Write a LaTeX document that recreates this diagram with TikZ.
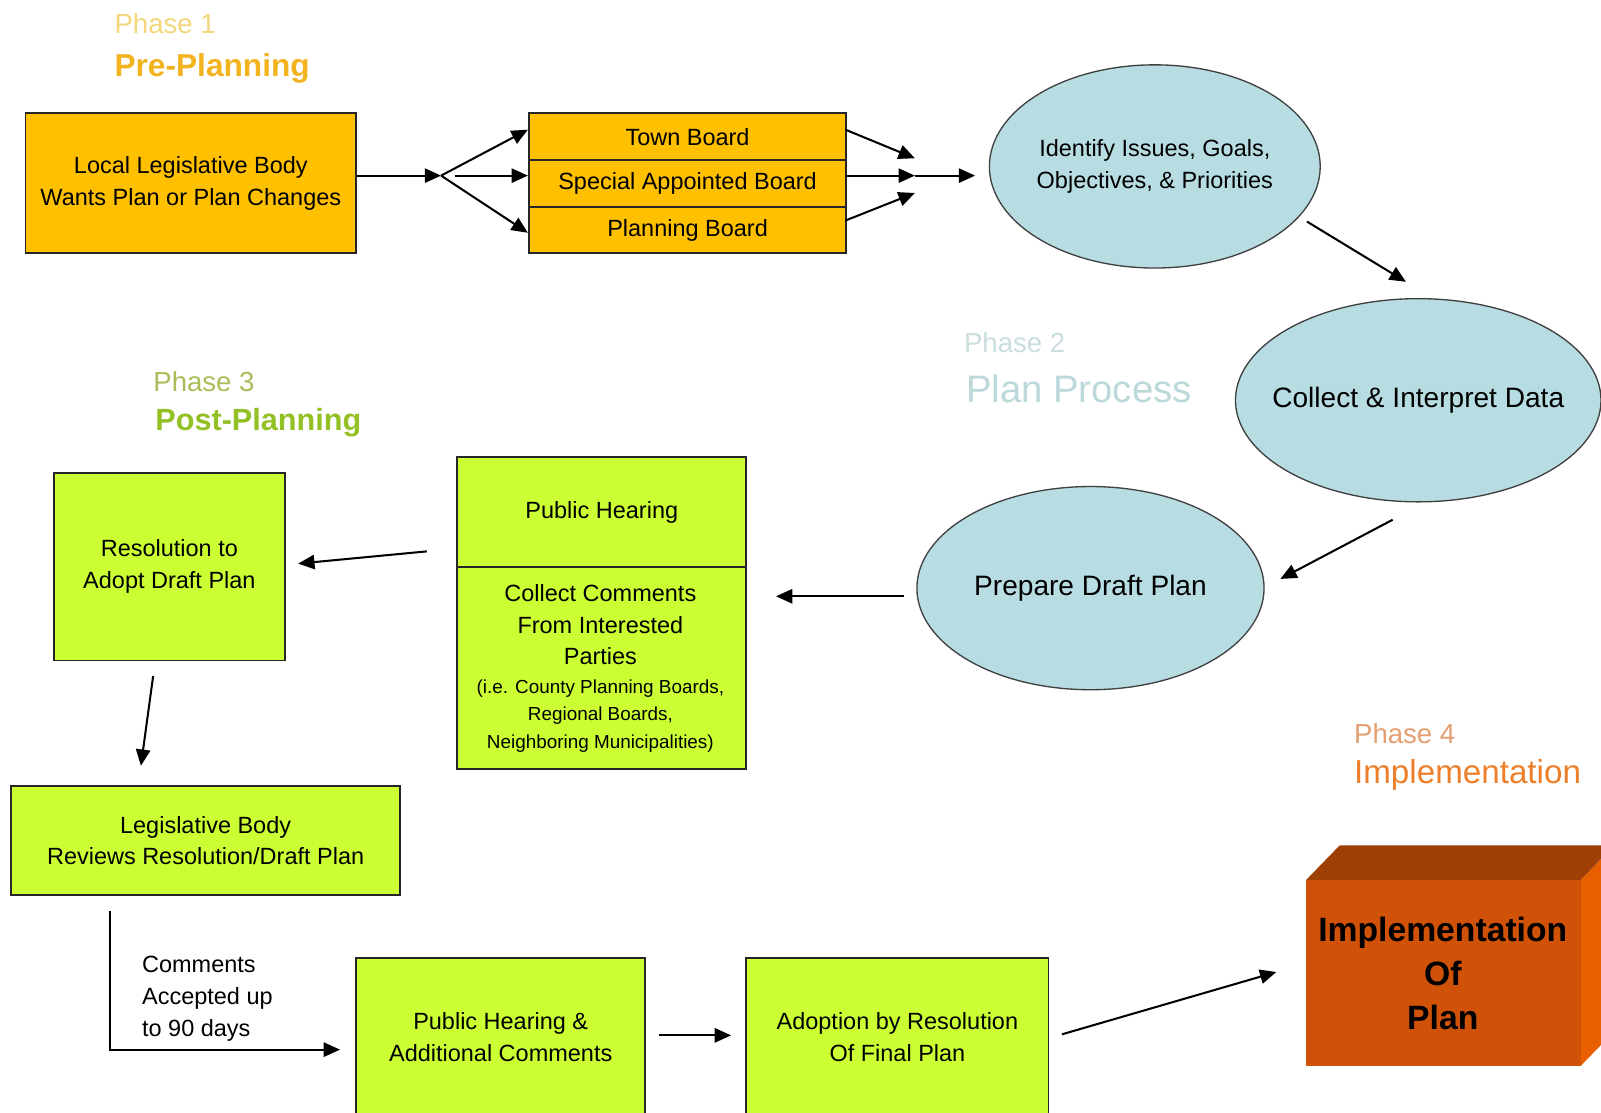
\documentclass[tikz,border=0pt]{standalone}
\usepackage{fontspec}
\setmainfont{Liberation Sans}
\usetikzlibrary{shapes.geometric,arrows.meta}
\definecolor{gold}{HTML}{FFC000}
\definecolor{lime}{HTML}{CCFF33}
\definecolor{lblue}{HTML}{B7DDE3}
\definecolor{phA}{HTML}{F3D77A}
\definecolor{phAb}{HTML}{F2B31E}
\definecolor{phB}{HTML}{CADDDF}
\definecolor{phBb}{HTML}{BCD8DA}
\definecolor{phC}{HTML}{A9BE5A}
\definecolor{phCb}{HTML}{93C024}
\definecolor{phD}{HTML}{E4A070}
\definecolor{phDb}{HTML}{EE7F2A}
\definecolor{cubefront}{HTML}{CF5208}
\definecolor{cubetop}{HTML}{9E3F06}
\definecolor{cubeside}{HTML}{E85F00}
\begin{document}
\begin{tikzpicture}[x=1pt,y=-1pt,
  boxbase/.style={draw=black!85,line width=1.8pt,align=center,inner sep=0pt,
    font=\fontsize{23}{31}\selectfont},
  goldbox/.style={boxbase,fill=gold},
  limebox/.style={boxbase,fill=lime},
  oval/.style={ellipse,draw=black!75,line width=1.3pt,fill=lblue,inner sep=0pt},
  ovaltext/.style={align=center,inner sep=0pt},
  arr/.style={-{Triangle[length=16pt,width=14pt]},line width=2pt},
  phase/.style={anchor=west,inner sep=0pt,font=\fontsize{27}{30}\selectfont},
  phasetitle/.style={anchor=west,inner sep=0pt,font=\fontsize{31}{34}\selectfont}
]
\clip (0,0) rectangle (1568,1090);
\fill[white] (0,0) rectangle (1568,1090);

% Phase labels
\node[phase,text=phA] (p1) at (112,23) {Phase 1};
\node[phasetitle,text=phAb,font=\bfseries\fontsize{31}{34}\selectfont] (p1t) at (112,67) {Pre-Planning};
\node[phase,text=phB] (p2) at (944,336) {Phase 2};
\node[phasetitle,text=phBb,font=\fontsize{37.5}{40}\selectfont] (p2t) at (946,381) {Plan Process};
\node[phase,text=phC] (p3) at (150,374) {Phase 3};
\node[phasetitle,text=phCb,font=\bfseries\fontsize{30}{34}\selectfont] (p3t) at (152,414) {Post-Planning};
\node[phase,text=phD] (p4) at (1326,719) {Phase 4};
\node[phasetitle,text=phDb,font=\fontsize{32.5}{34}\selectfont] (p4t) at (1326,759) {Implementation};

% Phase 1 boxes
\node[goldbox,anchor=north west,minimum width=324pt,minimum height=137pt] (A) at (24,110)
  {Local Legislative Body\\Wants Plan or Plan Changes};
\node[goldbox,anchor=north west,minimum width=311pt,minimum height=46pt] (tb) at (517,110) {Town Board};
\node[goldbox,anchor=north west,minimum width=311pt,minimum height=46pt] (sab) at (517,156) {Special Appointed Board};
\node[goldbox,anchor=north west,minimum width=311pt,minimum height=45pt] (pb) at (517,202) {Planning Board};

% Phase 2 ellipses
\node[oval,minimum width=324pt,minimum height=199pt] (e1) at (1131,163) {};
\node[ovaltext,font=\fontsize{23}{31}\selectfont] (e1t) at (e1.center)
  {Identify Issues, Goals,\\Objectives, \& Priorities};
\node[oval,minimum width=358pt,minimum height=199pt] (e2) at (1389,392) {};
\node[ovaltext,font=\fontsize{27.5}{32}\selectfont] (e2t) at (e2.center) {Collect \& Interpret Data};
\node[oval,minimum width=340pt,minimum height=199pt] (e3) at (1068,576) {};
\node[ovaltext,font=\fontsize{27.5}{32}\selectfont] (e3t) at (e3.center) {Prepare Draft Plan};

% Phase 3 boxes
\node[limebox,anchor=north west,minimum width=283pt,minimum height=107pt] (ph1) at (447,447) {Public Hearing};
\node[limebox,anchor=north west,minimum width=283pt,minimum height=198pt] (ph2) at (447,554) {};
\node[align=center,inner sep=0pt,font=\fontsize{23}{31}\selectfont] (ph2a) at (588,612)
  {Collect Comments\\From Interested\\Parties};
\node[align=center,inner sep=0pt,font=\fontsize{18.5}{27}\selectfont] (ph2b) at (588,701)
  {(i.e. County Planning Boards,\\Regional Boards,\\Neighboring Municipalities)};
\node[limebox,anchor=north west,minimum width=226pt,minimum height=184pt] (res) at (52,462)
  {Resolution to\\Adopt Draft Plan};
\node[limebox,anchor=north west,minimum width=381pt,minimum height=107pt] (leg) at (10,769)
  {Legislative Body\\Reviews Resolution/Draft Plan};
\node[limebox,anchor=north west,minimum width=283pt,minimum height=156pt] (phac) at (348,937)
  {Public Hearing \&\\Additional Comments};
\node[limebox,anchor=north west,minimum width=296pt,minimum height=156pt] (adopt) at (730,937)
  {Adoption by Resolution\\Of Final Plan};
\node[anchor=west,align=left,inner sep=0pt,font=\fontsize{23}{31}\selectfont] (cmt) at (139,978)
  {Comments\\Accepted up\\to 90 days};

% Phase 4 cube
\fill[cubetop] (1279,862) -- (1312,828) -- (1581,828) -- (1548,862) -- cycle;
\fill[cubeside] (1548,862) -- (1581,828) -- (1581,1010) -- (1548,1044) -- cycle;
\node[fill=cubefront,anchor=north west,minimum width=269pt,minimum height=182pt,inner sep=0pt] (cube) at (1279,862) {};
\node[align=center,inner sep=0pt,font=\bfseries\fontsize{33}{43}\selectfont] (cubetxt) at (1413,953)
  {Implementation\\Of\\Plan};

% Coordinates for connector ends
\coordinate (br) at (432,172);
\coordinate (br2) at (446,172);
\coordinate (tbin) at (517,127);
\coordinate (pbin) at (517,228);
\coordinate (tbout) at (828,127);
\coordinate (sabout) at (828,172);
\coordinate (pbout) at (828,216);
\coordinate (j1) at (896,155);
\coordinate (j2) at (896,172);
\coordinate (j3) at (896,189);
\coordinate (e1in) at (955,172);
\coordinate (e1out) at (1280,217);
\coordinate (e2in) at (1377,276);
\coordinate (e2out) at (1364,509);
\coordinate (e3in) at (1254,567);
\coordinate (e3out) at (885,584);
\coordinate (ph2in) at (760,584);
\coordinate (phout) at (418,540);
\coordinate (resin) at (292,552);
\coordinate (resout) at (150,662);
\coordinate (legin) at (138,750);
\coordinate (legout) at (108,892);
\coordinate (phacin) at (333,1028);
\coordinate (phacout) at (645,1014);
\coordinate (adoptin) at (716,1014);
\coordinate (adoptout) at (1040,1013);
\coordinate (cubein) at (1250,952);

% Connectors
\draw[arr] (A.east |- br) -- (br);
\draw[arr] (br) -- (tbin);
\draw[arr] (br2) -- (br2 -| sab.west);
\draw[arr] (br) -- (pbin);
\draw[arr] (tbout) -- (j1);
\draw[arr] (sabout) -- (j2);
\draw[arr] (pbout) -- (j3);
\draw[arr] (j2) -- (e1in);
\draw[arr] (e1out) -- (e2in);
\draw[arr] (e2out) -- (e3in);
\draw[arr] (e3out) -- (ph2in);
\draw[arr] (phout) -- (resin);
\draw[arr] (resout) -- (legin);
\draw[arr] (legout) |- (phacin);
\draw[arr] (phacout) -- (adoptin);
\draw[arr] (adoptout) -- (cubein);
\end{tikzpicture}
\end{document}
